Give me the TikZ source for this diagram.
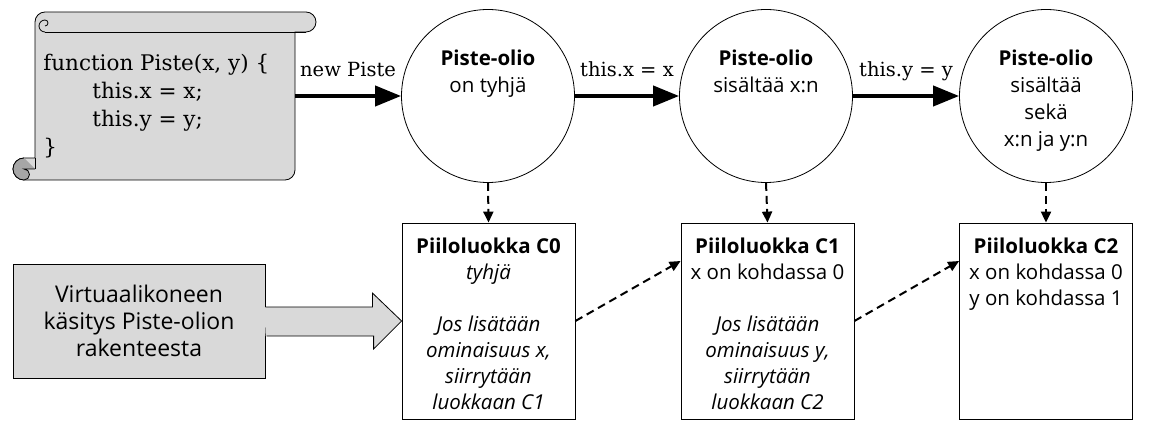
\documentclass[tikz,border=0pt]{standalone}
\usepackage{fontspec}
\setmainfont{Open Sans}
\newfontfamily\codeserif{DejaVu Serif}
\usetikzlibrary{arrows.meta}
\definecolor{lightgray}{HTML}{D9D9D9}
\definecolor{curlgray}{HTML}{A6A6A6}
\begin{document}
\begin{tikzpicture}[x=1pt,y=-1pt,
  line width=0.8pt,
  state/.style={circle,draw,minimum size=173pt,inner sep=0pt},
  cls/.style={draw,minimum width=173pt,minimum height=196pt,inner sep=0pt},
  sttext/.style={anchor=north,align=center,inner sep=0pt,font=\fontsize{20.5}{27}\selectfont},
  clstext/.style={anchor=north,align=center,inner sep=0pt,font=\fontsize{20.5}{26}\selectfont},
  bigarrow/.style={line width=4pt,-{Triangle[length=26pt,width=20pt]}},
  dasharrow/.style={line width=2pt,dash pattern=on 8pt off 5pt,-{Triangle[length=11pt,width=10pt]}},
  arrlabel/.style={anchor=base,yshift=19pt,inner sep=0pt,font=\codeserif\fontsize{19.5}{24}\selectfont},
]
\useasboundingbox (0,0) rectangle (1150,430);

% scroll
\filldraw[fill=lightgray] (35,158) -- (35,22) arc[start angle=180,end angle=270,radius=10]
  -- (306,12) arc[start angle=270,end angle=450,radius=10]
  -- (295,32) -- (295,170) arc[start angle=0,end angle=90,radius=10]
  -- (24,180) arc[start angle=90,end angle=270,radius=11] -- cycle;
\draw (45,32) -- (306,32);
\draw (45,32) arc[start angle=90,end angle=270,radius=6] arc[start angle=270,end angle=450,radius=3];
\filldraw[fill=curlgray] (24,158) arc[start angle=270,end angle=90,radius=11]
  arc[start angle=90,end angle=-90,radius=5.5] -- (35,169);
\draw (35,158) -- (35,169);
\node[anchor=north west,align=left,inner sep=0pt,font=\codeserif\fontsize{21.5}{28}\selectfont] (code) at (43,54)
  {function Piste(x, y) \{\\\hspace*{49pt}this.x = x;\\\hspace*{49pt}this.y = y;\\\}};
\coordinate (scrollE) at (295,96);

% states
\node[state] (p0) at (488,96) {};
\node[state] (p1) at (766,96) {};
\node[state] (p2) at (1046,96) {};
\node[sttext] (p0t) at (488,50) {\textbf{Piste-olio}\\on tyhjä};
\node[sttext] (p1t) at (766,50) {\textbf{Piste-olio}\\sisältää x:n};
\node[sttext] (p2t) at (1046,50) {\textbf{Piste-olio}\\sisältää\\sekä\\x:n ja y:n};

\draw[bigarrow] (scrollE) -- node[arrlabel] {new Piste} (p0.west);
\draw[bigarrow] (p0.east) -- node[arrlabel] {this.x = x} (p1.west);
\draw[bigarrow] (p1.east) -- node[arrlabel] {this.y = y} (p2.west);

% hidden classes
\node[cls] (c0) at (488.5,321) {};
\node[cls] (c1) at (767.5,321) {};
\node[cls] (c2) at (1046,321) {};
\node[clstext] (c0t) at (488.5,237.5) {\textbf{Piiloluokka C0}\\\textit{tyhjä}\\[26pt]\textit{Jos lisätään}\\\textit{ominaisuus x,}\\\textit{siirrytään}\\\textit{luokkaan C1}};
\node[clstext] (c1t) at (767.5,237.5) {\textbf{Piiloluokka C1}\\x on kohdassa 0\\[26pt]\textit{Jos lisätään}\\\textit{ominaisuus y,}\\\textit{siirrytään}\\\textit{luokkaan C2}};
\node[clstext] (c2t) at (1046,237.5) {\textbf{Piiloluokka C2}\\x on kohdassa 0\\y on kohdassa 1};

\draw[dasharrow] (p0.south) -- (c0.north);
\draw[dasharrow] (p1.south) -- (c1.north);
\draw[dasharrow] (p2.south) -- (c2.north);
\draw[dasharrow] (c0.east) -- ([yshift=60pt]c1.west);
\draw[dasharrow] (c1.east) -- ([yshift=60pt]c2.west);

% virtual machine box with block arrow
\node[draw,fill=lightgray,minimum width=252pt,minimum height=114pt,inner sep=0pt,align=center,
  font=\fontsize{23}{27}\selectfont] (vm) at (139,321) {Virtuaalikoneen\\käsitys Piste-olion\\rakenteesta};
\fill[lightgray] ([yshift=14pt,xshift=-1pt]vm.east) -- ++(108,0) -- ++(0,-14) -- (c0.west) -- ++(-28,28) -- ++(0,-13) -- ++(-108,0) -- cycle;
\draw ([yshift=14pt]vm.east) -- ++(107,0) -- ++(0,-14) -- (c0.west) -- ++(-28,28) -- ++(0,-13) -- ++(-107,0);
\end{tikzpicture}
\end{document}
